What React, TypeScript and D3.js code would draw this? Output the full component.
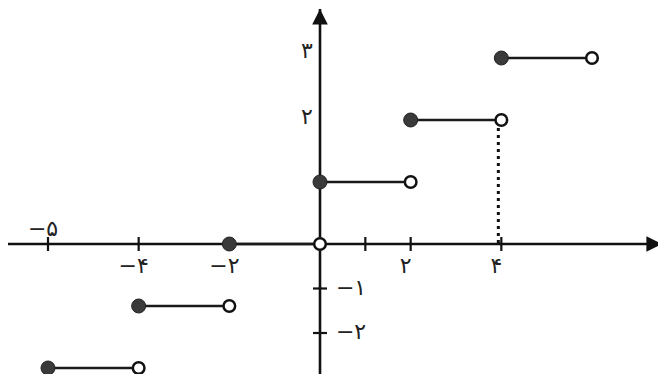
import React, { useRef, useEffect } from "react";
import * as d3 from "d3";

// step function f(x) = floor(x / 2) + 1, each piece [start, end)
const segStart = [-6, -4, -2, 0, 2, 4];
const segEnd = [-4, -2, 0, 2, 4, 6];
const segValue = [-2, -1, 0, 1, 2, 3];

// tick labels as printed in the figure
const xTickValues = [-6, -4, -2, 1, 2, 4];
const xTickLabels = ["−۵", "−۴", "−۲", "", "۲", "۴"];
const yTickValues = [3, 2];
const yTickLabels = ["۳", "۲"];
const yNegTickValues = [-1, -2];
const yNegTickLabels = ["−۱", "−۲"];

const W = 658;
const H = 374;

const App = () => {
  const ref = useRef<SVGSVGElement>(null);

  useEffect(() => {
    const svg = d3.select(ref.current);
    svg.selectAll("*").remove();

    const x = d3.scaleLinear().domain([0, 6]).range([320, 592]);
    const y = d3.scaleLinear().domain([0, 3]).range([244, 58]);
    // the negative y ticks of the figure are spaced like the x axis
    const yNeg = d3.scaleLinear().domain([0, -2]).range([244, 333]);

    const font = "DejaVu Sans";

    svg
      .append("defs")
      .append("marker")
      .attr("id", "arrow")
      .attr("viewBox", "0 0 10 10")
      .attr("refX", 10)
      .attr("refY", 5)
      .attr("markerWidth", 6)
      .attr("markerHeight", 6)
      .attr("markerUnits", "strokeWidth")
      .attr("orient", "auto")
      .append("path")
      .attr("d", "M0,0 L10,5 L0,10 z")
      .attr("fill", "#111");

    // axes
    svg
      .append("line")
      .attr("x1", 8)
      .attr("x2", 662)
      .attr("y1", y(0))
      .attr("y2", y(0))
      .attr("stroke", "#111")
      .attr("stroke-width", 2.6)
      .attr("marker-end", "url(#arrow)");
    svg
      .append("line")
      .attr("x1", x(0))
      .attr("x2", x(0))
      .attr("y1", H)
      .attr("y2", 9)
      .attr("stroke", "#111")
      .attr("stroke-width", 2.6)
      .attr("marker-end", "url(#arrow)");

    // x ticks
    const xt = svg.append("g").selectAll("g").data(xTickValues).join("g");
    xt.filter((d) => d !== -2)
      .append("line")
      .attr("x1", (d) => x(d))
      .attr("x2", (d) => x(d))
      .attr("y1", y(0) - 7)
      .attr("y2", y(0) + 7)
      .attr("stroke", "#111")
      .attr("stroke-width", 2.2);
    xt.append("text")
      .attr("x", (d) => x(d) - 5)
      .attr("y", (d) => (d === -6 ? y(0) - 8 : y(0) + 29))
      .attr("text-anchor", "middle")
      .attr("font-family", font)
      .attr("font-size", 22)
      .attr("fill", "#222")
      .text((d, i) => xTickLabels[i]);

    // y ticks (positive side: labels only)
    svg
      .append("g")
      .selectAll("text")
      .data(yTickValues)
      .join("text")
      .attr("x", x(0) - 13)
      .attr("y", (d) => y(d) + (d === 3 ? 0 : 4))
      .attr("text-anchor", "middle")
      .attr("font-family", font)
      .attr("font-size", 22)
      .attr("fill", "#222")
      .text((d, i) => yTickLabels[i]);

    const yn = svg.append("g").selectAll("g").data(yNegTickValues).join("g");
    yn.append("line")
      .attr("x1", x(0) - 7)
      .attr("x2", x(0) + 7)
      .attr("y1", (d) => yNeg(d))
      .attr("y2", (d) => yNeg(d))
      .attr("stroke", "#111")
      .attr("stroke-width", 2.2);
    yn.append("text")
      .attr("x", x(0) + 31)
      .attr("y", (d) => yNeg(d) + 6)
      .attr("text-anchor", "middle")
      .attr("font-family", font)
      .attr("font-size", 22)
      .attr("fill", "#222")
      .text((d, i) => yNegTickLabels[i]);

    // dotted guide at x = 4
    svg
      .append("line")
      .attr("x1", x(4) - 3)
      .attr("x2", x(4) - 3)
      .attr("y1", y(segValue[4]) + 8)
      .attr("y2", y(0))
      .attr("stroke", "#111")
      .attr("stroke-width", 3)
      .attr("stroke-dasharray", "3,4");

    const segs = segStart.map((s, i) => ({ s, e: segEnd[i], v: segValue[i] }));

    svg
      .append("g")
      .selectAll("line")
      .data(segs)
      .join("line")
      .attr("x1", (d) => x(d.s))
      .attr("x2", (d) => x(d.e))
      .attr("y1", (d) => y(d.v))
      .attr("y2", (d) => y(d.v))
      .attr("stroke", "#1a1a1a")
      .attr("stroke-width", 2.4);

    svg
      .append("g")
      .selectAll("circle")
      .data(segs)
      .join("circle")
      .attr("cx", (d) => x(d.e))
      .attr("cy", (d) => y(d.v))
      .attr("r", 5.8)
      .attr("fill", "white")
      .attr("stroke", "#111")
      .attr("stroke-width", 2.5);

    svg
      .append("g")
      .selectAll("circle")
      .data(segs)
      .join("circle")
      .attr("cx", (d) => x(d.s))
      .attr("cy", (d) => y(d.v))
      .attr("r", 7)
      .attr("fill", "#3a3a3a")
      .attr("stroke", "#222")
      .attr("stroke-width", 1);
  });

  return (
    <svg
      ref={ref}
      width={W}
      height={H}
      style={{ position: "absolute", left: 0, top: 0, background: "white" }}
    ></svg>
  );
};

export default App;
